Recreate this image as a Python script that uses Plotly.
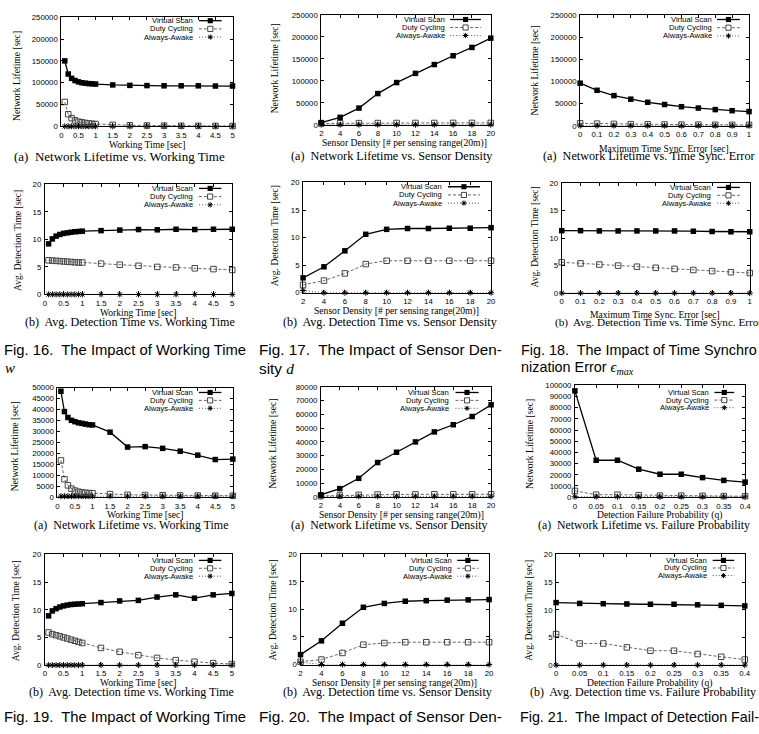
import plotly.graph_objects as go

W, H = 759, 734

# ---------------- data ----------------
work_x = [0.1, 0.2, 0.3, 0.4, 0.5, 0.6, 0.7, 0.8, 0.9, 1.0, 1.5, 2, 2.5, 3, 3.5, 4, 4.5, 5]
dens_x = [2, 4, 6, 8, 10, 12, 14, 16, 18, 20]
sync_x = [0, 0.1, 0.2, 0.3, 0.4, 0.5, 0.6, 0.7, 0.8, 0.9, 1.0]
fail_x = [0, 0.05, 0.1, 0.15, 0.2, 0.25, 0.3, 0.35, 0.4]

# Fig 16 (a) lifetime vs working time
f16a_vs = [150000, 120000, 110000, 105000, 102000, 100000, 99000, 98000, 97500, 97000,
           95000, 94000, 93500, 93000, 93000, 93000, 92500, 92500]
f16a_dc = [56000, 28000, 19000, 14000, 11000, 9500, 8000, 7000, 6300, 5600,
           3800, 2800, 2300, 1900, 1600, 1400, 1250, 1100]
f16a_aa = [400] * 18
# Fig 16 (b) detection vs working time
f16b_vs = [9.2, 10.1, 10.6, 10.9, 11.1, 11.2, 11.3, 11.4, 11.45, 11.5,
           11.6, 11.7, 11.8, 11.75, 11.85, 11.8, 11.85, 11.85]
f16b_dc = [6.2, 6.15, 6.1, 6.05, 6.0, 5.95, 5.9, 5.85, 5.8, 5.8,
           5.6, 5.4, 5.2, 5.0, 4.9, 4.75, 4.6, 4.45]
f16b_aa = [0] * 18
# Fig 17 (a) lifetime vs density
f17a_vs = [5000, 17000, 38000, 71000, 96000, 117000, 137000, 157000, 176000, 197000]
f17a_dc = [3000, 3500, 3800, 4000, 4100, 4200, 4200, 4300, 4300, 4300]
f17a_aa = [400] * 10
# Fig 17 (b) detection vs density
f17b_vs = [2.7, 4.7, 7.6, 10.6, 11.5, 11.65, 11.65, 11.7, 11.7, 11.8]
f17b_dc = [1.4, 2.2, 3.5, 5.2, 5.8, 5.8, 5.8, 5.8, 5.8, 5.8]
f17b_aa = [0.4, 0, 0, 0, 0, 0, 0, 0, 0, 0]
# Fig 18 (a) lifetime vs sync error
f18a_vs = [96000, 80000, 68000, 60000, 53000, 48000, 43000, 40000, 36500, 34000, 32000]
f18a_dc = [5600, 4800, 4200, 3700, 3300, 3000, 2700, 2500, 2300, 2100, 2000]
f18a_aa = [400] * 11
# Fig 18 (b) detection vs sync error
f18b_vs = [11.35, 11.35, 11.3, 11.3, 11.3, 11.3, 11.3, 11.25, 11.2, 11.15, 11.15]
f18b_dc = [5.6, 5.4, 5.2, 5.0, 4.8, 4.6, 4.4, 4.2, 4.0, 3.8, 3.65]
f18b_aa = [0] * 11
# Fig 19 (a) lifetime vs working time
f19a_vs = [48400, 39100, 36400, 35100, 34500, 34000, 33700, 33400, 33100, 33000,
           29700, 22900, 23100, 22300, 21000, 19200, 17200, 17400]
f19a_dc = [16800, 8200, 5400, 3900, 3000, 2500, 2200, 2000, 1900, 1800,
           1400, 1100, 1000, 900, 800, 750, 700, 650]
f19a_aa = [450] * 18
# Fig 19 (b) detection vs working time
f19b_vs = [8.9, 9.8, 10.2, 10.5, 10.7, 10.85, 10.95, 11.0, 11.05, 11.1,
           11.3, 11.6, 11.7, 12.3, 12.7, 12.1, 12.7, 12.95]
f19b_dc = [5.9, 5.6, 5.4, 5.2, 5.0, 4.8, 4.6, 4.4, 4.2, 4.0,
           3.1, 2.4, 1.8, 1.3, 0.9, 0.6, 0.35, 0.2]
f19b_aa = [0] * 18
# Fig 20 (a) lifetime vs density
f20a_vs = [1500, 6000, 13500, 25000, 32500, 40000, 47300, 52500, 58500, 67000]
f20a_dc = [600, 1000, 1500, 1700, 1800, 1800, 1900, 1900, 1900, 1900]
f20a_aa = [400] * 10
# Fig 20 (b) detection vs density
f20b_vs = [1.8, 4.3, 7.5, 10.4, 11.1, 11.5, 11.6, 11.7, 11.75, 11.8]
f20b_dc = [0.5, 0.9, 2.1, 3.6, 3.9, 4.05, 4.05, 4.05, 4.05, 4.05]
f20b_aa = [0.4, 0, 0, 0, 0, 0, 0, 0, 0, 0]
# Fig 21 (a) lifetime vs failure probability
f21a_vs = [95000, 33000, 33000, 25000, 20500, 20500, 17500, 15000, 13500]
f21a_dc = [5600, 2200, 2200, 1800, 1400, 1400, 1200, 1000, 900]
f21a_aa = [400] * 9
# Fig 21 (b) detection vs failure probability
f21b_vs = [11.3, 11.15, 11.1, 11.05, 11.0, 11.0, 10.9, 10.8, 10.7]
f21b_dc = [5.6, 3.9, 3.9, 3.2, 2.6, 2.6, 2.0, 1.5, 1.0]
f21b_aa = [0] * 9

series_names = ["Virtual Scan", "Duty Cycling", "Always-Awake"]

XT_WORK = "Working Time [sec]"
XT_DENS = "Sensor Density [# per sensing range(20m)]"
XT_SYNC = "Maximum Time Sync. Error [sec]"
XT_FAIL = "Detection Failure Probability (q)"
YT_LIFE = "Network Lifetime [sec]"
YT_DET = "Avg. Detection Time [sec]"

# ---------------- layout geometry (pixels) ----------------
# box: (left, right, top, bottom)
panels = [
    dict(box=(60, 233, 13.3, 124), x=work_x, ys=(f16a_vs, f16a_dc, f16a_aa),
         xr=[0, 5], dx=0.5, yr=[0, 250000], dy=50000, xt=XT_WORK, yt=YT_LIFE,
         xtp=(147, 142), ytp=(14, 73),
         cap="(a)\u00a0 Network Lifetime vs. Working Time", capp=(10, 154), caps=13,
         leg=(38, 34, 11, 3.6, 8.3)),
    dict(box=(322.7, 494, 11, 122.3), x=dens_x, ys=(f17a_vs, f17a_dc, f17a_aa),
         xr=[2, 20], dx=2, yr=[0, 250000], dy=50000, xt=XT_DENS, yt=YT_LIFE,
         xtp=(407, 141), ytp=(275, 65),
         cap="(a)\u00a0 Network Lifetime vs. Sensor Density", capp=(290, 154), caps=12.2,
         leg=(44.7, 41, 10, 4.7, 8.1)),
    dict(box=(584.3, 755, 11, 123.3), x=sync_x, ys=(f18a_vs, f18a_dc, f18a_aa),
         xr=[0, 1], dx=0.1, yr=[0, 250000], dy=50000, xt=XT_SYNC, yt=YT_LIFE,
         xtp=(669, 146), ytp=(538, 67),
         cap="(a)\u00a0 Network Lifetime vs. Time Sync. Error", capp=(545, 154), caps=12.2,
         leg=(35.7, 32.3, 9.3, 4.7, 8.3)),
    dict(box=(43.3, 232.7, 182.7, 294), x=work_x, ys=(f16b_vs, f16b_dc, f16b_aa),
         xr=[0, 5], dx=0.5, yr=[0, 20], dy=5, xt=XT_WORK, yt=YT_DET,
         xtp=(138, 312), ytp=(15, 239),
         cap="(b)\u00a0 Avg. Detection Time vs. Working Time", capp=(21.7, 322), caps=12.1,
         leg=(37.7, 33.7, 11, 4, 8.3)),
    dict(box=(304.3, 494.3, 180.7, 292.3), x=dens_x, ys=(f17b_vs, f17b_dc, f17b_aa),
         xr=[2, 20], dx=2, yr=[0, 20], dy=5, xt=XT_DENS, yt=YT_DET,
         xtp=(399, 311), ytp=(275, 235),
         cap="(b)\u00a0 Avg. Detection Time vs. Sensor Density", capp=(281.7, 322), caps=12.1,
         leg=(47.6, 43.6, 11.3, 4.3, 8.3)),
    dict(box=(565.7, 755.7, 181.3, 292.7), x=sync_x, ys=(f18b_vs, f18b_dc, f18b_aa),
         xr=[0, 1], dx=0.1, yr=[0, 20], dy=5, xt=XT_SYNC, yt=YT_DET,
         xtp=(660, 314), ytp=(538, 236),
         cap="(b)\u00a0 Avg. Detection Time vs. Time Sync. Error", capp=(556.7, 322), caps=11.2,
         leg=(37.4, 33, 10, 4.4, 8)),
    dict(box=(56, 233.3, 388.5, 499.3), x=work_x, ys=(f19a_vs, f19a_dc, f19a_aa),
         xr=[0, 5], dx=0.5, yr=[0, 50000], dy=5000, xt=XT_WORK, yt=YT_LIFE,
         xtp=(145, 517), ytp=(13, 448),
         cap="(a)\u00a0 Network Lifetime vs. Working Time", capp=(30, 527), caps=12.0,
         leg=(38.3, 34.3, 11.6, 4.8, 8)),
    dict(box=(322.3, 494.3, 387.7, 499), x=dens_x, ys=(f20a_vs, f20a_dc, f20a_aa),
         xr=[2, 20], dx=2, yr=[0, 80000], dy=10000, xt=XT_DENS, yt=YT_LIFE,
         xtp=(404, 517), ytp=(273, 445),
         cap="(a)\u00a0 Network Lifetime vs. Sensor Density", capp=(290, 527), caps=11.9,
         leg=(41, 36, 12.6, 5.6, 8)),
    dict(box=(579, 751, 386, 499.3), x=fail_x, ys=(f21a_vs, f21a_dc, f21a_aa),
         xr=[0, 0.4], dx=0.05, yr=[0, 100000], dy=10000, xt=XT_FAIL, yt=YT_LIFE,
         xtp=(665, 517), ytp=(533, 445),
         cap="(a)\u00a0 Network Lifetime vs. Failure Probability", capp=(539.3, 527), caps=11.8,
         leg=(34.3, 31, 11, 7.3, 7.7)),
    dict(box=(43.3, 232.3, 557.3, 669.3), x=work_x, ys=(f19b_vs, f19b_dc, f19b_aa),
         xr=[0, 5], dx=0.5, yr=[0, 20], dy=5, xt=XT_WORK, yt=YT_DET,
         xtp=(138, 687), ytp=(14, 614),
         cap="(b)\u00a0 Avg. Detection time vs. Working Time", capp=(25, 697), caps=12.0,
         leg=(37.3, 33.3, 10.6, 6, 8)),
    dict(box=(301.7, 492.3, 557.3, 668.7), x=dens_x, ys=(f20b_vs, f20b_dc, f20b_aa),
         xr=[2, 20], dx=2, yr=[0, 20], dy=5, xt=XT_DENS, yt=YT_DET,
         xtp=(397, 687), ytp=(273, 614),
         cap="(b)\u00a0 Avg. Detection time vs. Sensor Density", capp=(281.7, 697), caps=12.0,
         leg=(35.6, 32.3, 10.6, 6, 8)),
    dict(box=(560, 750.7, 557.3, 669.3), x=fail_x, ys=(f21b_vs, f21b_dc, f21b_aa),
         xr=[0, 0.4], dx=0.05, yr=[0, 20], dy=5, xt=XT_FAIL, yt=YT_DET,
         xtp=(655, 687), ytp=(532, 614),
         cap="(b)\u00a0 Avg. Detection time vs. Failure Probability", capp=(531.7, 697), caps=12.0,
         leg=(35.7, 32.4, 10.7, 6, 7.7)),
]


def PX(x):
    return x / W


def PY(y):
    return 1 - y / H


SANS = "Liberation Sans, Arial, sans-serif"
SERIF = "Liberation Serif, Times New Roman, serif"

styles = [
    dict(line=dict(color="black", width=1.3),
         marker=dict(symbol="square", size=5.5, color="black")),
    dict(line=dict(color="#666666", width=1, dash="3px,2px"),
         marker=dict(symbol="square-open", size=5.5, color="#444444", line=dict(width=1))),
    dict(line=dict(color="#555555", width=1, dash="1px,2px"),
         marker=dict(symbol="asterisk-open", size=5, color="black", line=dict(width=1, color="black"))),
]

fig = go.Figure()
layout = dict(width=W, height=H, margin=dict(l=0, r=0, t=0, b=0),
              paper_bgcolor="white", plot_bgcolor="white", showlegend=False)
annotations = []
shapes = []

for i, p in enumerate(panels, start=1):
    L, R, T, B = p["box"]
    xs = "" if i == 1 else str(i)
    axcommon = dict(showline=True, linecolor="black", linewidth=1, mirror="ticks",
                    ticks="inside", ticklen=3, tickwidth=0.8, tickcolor="black",
                    showgrid=False, zeroline=False,
                    tickfont=dict(family=SANS, size=7.8, color="black"))
    layout["xaxis" + xs] = dict(axcommon, domain=[PX(L), PX(R)], anchor="y" + xs,
                                range=p["xr"], tick0=p["xr"][0], dtick=p["dx"],
                                ticklabelstandoff=1)
    layout["yaxis" + xs] = dict(axcommon, domain=[PY(B), PY(T)], anchor="x" + xs,
                                range=p["yr"], tick0=0, dtick=p["dy"], tickformat="d",
                                ticklabelstandoff=1)
    for k in (2, 1, 0):
        fig.add_trace(go.Scatter(x=p["x"], y=p["ys"][k], mode="lines+markers",
                                 name=series_names[k], xaxis="x" + xs, yaxis="y" + xs,
                                 cliponaxis=False, **styles[k]))
    # axis titles
    annotations.append(dict(text=p["xt"], x=PX(p["xtp"][0]), y=PY(p["xtp"][1]),
                            xref="paper", yref="paper", showarrow=False,
                            xanchor="center", yanchor="middle",
                            font=dict(family=SERIF, size=9.6, color="black")))
    annotations.append(dict(text=p["yt"], x=PX(p["ytp"][0]), y=PY(p["ytp"][1]),
                            xref="paper", yref="paper", showarrow=False, textangle=-90,
                            xanchor="center", yanchor="middle",
                            font=dict(family=SERIF, size=9.6, color="black")))
    annotations.append(dict(text=p["cap"], x=PX(p["capp"][0]), y=PY(p["capp"][1]),
                            xref="paper", yref="paper", showarrow=False,
                            xanchor="left", yanchor="middle",
                            font=dict(family=SERIF, size=p["caps"], color="black")))
    # key (legend) inside top-right corner
    te, ls, le, r0, dr = p["leg"]
    for k in range(3):
        yy = T + r0 + k * dr
        annotations.append(dict(text=series_names[k], x=PX(R - te), y=PY(yy),
                                xref="paper", yref="paper", showarrow=False,
                                xanchor="right", yanchor="middle",
                                font=dict(family=SANS, size=7.6, color="black")))
        st = styles[k]
        shapes.append(dict(type="line", xref="paper", yref="paper",
                           x0=PX(R - ls), x1=PX(R - le), y0=PY(yy), y1=PY(yy),
                           line=dict(color=st["line"]["color"], width=st["line"]["width"],
                                     dash=st["line"].get("dash", "solid"))))
        cx = R - (ls + le) / 2.0
        r = 2.6
        if k == 0:
            shapes.append(dict(type="rect", xref="paper", yref="paper",
                               x0=PX(cx - r), x1=PX(cx + r), y0=PY(yy + r), y1=PY(yy - r),
                               fillcolor="black", line=dict(width=0)))
        elif k == 1:
            shapes.append(dict(type="rect", xref="paper", yref="paper",
                               x0=PX(cx - r), x1=PX(cx + r), y0=PY(yy + r), y1=PY(yy - r),
                               fillcolor="white", line=dict(color="#444444", width=1)))
        else:
            d = r * 0.72
            path = ("M{},{} L{},{} M{},{} L{},{} M{},{} L{},{} M{},{} L{},{}".format(
                PX(cx - r), PY(yy), PX(cx + r), PY(yy),
                PX(cx), PY(yy - r), PX(cx), PY(yy + r),
                PX(cx - d), PY(yy - d), PX(cx + d), PY(yy + d),
                PX(cx - d), PY(yy + d), PX(cx + d), PY(yy - d)))
            shapes.append(dict(type="path", xref="paper", yref="paper", path=path,
                               line=dict(color="black", width=1)))

# figure captions
ITAL = "<span style='font-family:Liberation Serif;font-style:italic'>{}</span>"
figcaps = [
    ("Fig. 16.\u00a0 The Impact of Working Time", 0, 350, 14.8),
    (ITAL.format("w"), 1, 369, 14.8),
    ("Fig. 17.\u00a0 The Impact of Sensor Den-", 258, 350, 15.3),
    ("sity " + ITAL.format("d"), 258, 369, 15.3),
    ("Fig. 18.\u00a0 The Impact of Time Synchro", 522.7, 350, 14.4),
    ("nization Error " + ITAL.format("\u03f5<sub>max</sub>"), 522.7, 369, 14.4),
    ("Fig. 19.\u00a0 The Impact of Working Time", 0, 721.7, 14.8),
    ("Fig. 20.\u00a0 The Impact of Sensor Den-", 258, 721.7, 15.3),
    ("Fig. 21.\u00a0 The Impact of Detection Fail-", 521.7, 721.7, 14.3),
]
for t, x, y, s in figcaps:
    annotations.append(dict(text=t, x=PX(x), y=PY(y), xref="paper", yref="paper",
                            showarrow=False, xanchor="left", yanchor="middle",
                            font=dict(family=SANS, size=s, color="black")))

layout["annotations"] = annotations
layout["shapes"] = shapes
fig.update_layout(**layout)
fig.write_html("out.html")
